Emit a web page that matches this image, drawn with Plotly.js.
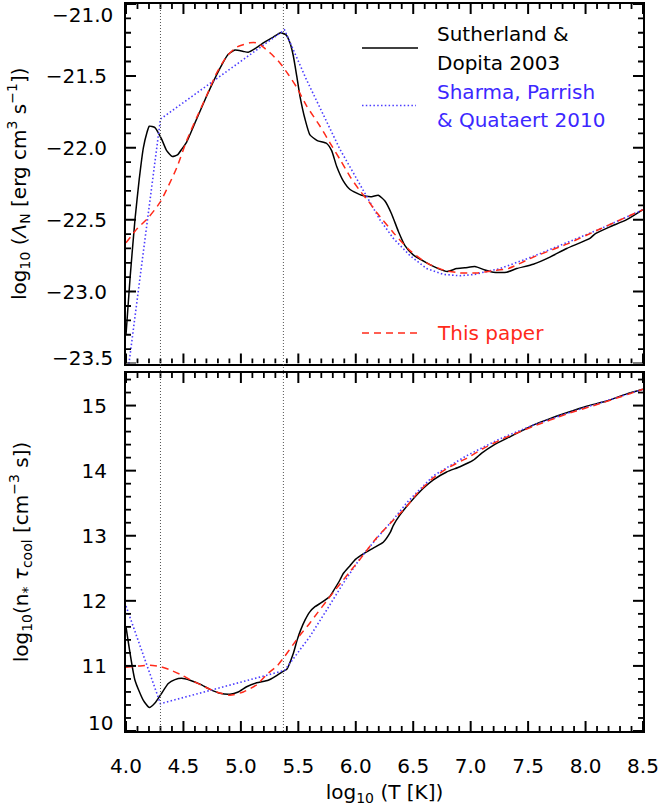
<!DOCTYPE html>
<html>
<head>
<meta charset="utf-8">
<script src="https://cdn.plot.ly/plotly-3.0.1.min.js"></script>
<style>html,body{margin:0;padding:0;background:#fff;}</style>
</head>
<body>
<div id="chart" style="width:660px;height:806px;"></div>
<script>
// ---------- data ----------
// Top panel: log10 Lambda_N vs log10 T
const sdTopX = [4.00, 4.035, 4.078, 4.115, 4.151, 4.18, 4.203, 4.252, 4.31, 4.354, 4.403, 4.447, 4.485, 4.528, 4.615, 4.702, 4.803, 4.89, 4.949, 5.021, 5.064, 5.123, 5.195, 5.282, 5.346, 5.393, 5.427, 5.456, 5.486, 5.514, 5.558, 5.601, 5.665, 5.747, 5.79, 5.834, 5.891, 5.95, 6.051, 6.138, 6.196, 6.254, 6.312, 6.37, 6.428, 6.50, 6.617, 6.718, 6.796, 6.878, 6.95, 7.037, 7.124, 7.197, 7.313, 7.40, 7.545, 7.69, 7.836, 8.038, 8.08, 8.212, 8.358, 8.50];
const sdTopY = [-23.30, -22.91, -22.50, -22.22, -22.00, -21.90, -21.85, -21.86, -21.94, -22.02, -22.06, -22.05, -22.01, -21.96, -21.80, -21.64, -21.47, -21.35, -21.32, -21.33, -21.335, -21.31, -21.27, -21.23, -21.20, -21.215, -21.27, -21.36, -21.50, -21.64, -21.80, -21.91, -21.95, -21.97, -22.02, -22.13, -22.23, -22.29, -22.33, -22.34, -22.33, -22.37, -22.46, -22.58, -22.68, -22.745, -22.80, -22.84, -22.86, -22.84, -22.835, -22.826, -22.85, -22.865, -22.865, -22.84, -22.81, -22.76, -22.70, -22.63, -22.60, -22.55, -22.50, -22.43];

const spqTopX = [4.00, 4.30, 5.38, 5.573, 5.862, 6.05, 6.21, 6.327, 6.472, 6.617, 6.762, 6.907, 7.037, 7.139, 7.255, 7.545, 7.836, 8.125, 8.50];
const spqTopY = [-23.66, -21.80, -21.18, -21.53, -22.01, -22.28, -22.50, -22.63, -22.75, -22.84, -22.88, -22.89, -22.88, -22.86, -22.84, -22.755, -22.66, -22.565, -22.43];

const paperTopX = [4.00, 4.10, 4.19, 4.296, 4.354, 4.441, 4.528, 4.615, 4.70, 4.789, 4.876, 4.963, 5.079, 5.137, 5.195, 5.268, 5.34, 5.413, 5.486, 5.573, 5.689, 5.775, 5.862, 5.95, 6.037, 6.109, 6.182, 6.327, 6.472, 6.617, 6.762, 6.907, 7.052, 7.197, 7.327, 7.545, 7.836, 8.125, 8.50];
const paperTopY = [-22.66, -22.56, -22.49, -22.38, -22.29, -22.14, -21.95, -21.79, -21.64, -21.48, -21.365, -21.30, -21.27, -21.27, -21.30, -21.35, -21.41, -21.49, -21.58, -21.71, -21.85, -21.965, -22.08, -22.20, -22.30, -22.37, -22.45, -22.59, -22.715, -22.80, -22.85, -22.87, -22.87, -22.855, -22.84, -22.76, -22.67, -22.565, -22.43];

// Bottom panel: log10(n* tau_cool) vs log10 T
const sdBotX = [4.00, 4.078, 4.151, 4.203, 4.252, 4.31, 4.368, 4.426, 4.485, 4.557, 4.644, 4.731, 4.818, 4.905, 4.977, 5.05, 5.137, 5.238, 5.30, 5.36, 5.40, 5.456, 5.49, 5.52, 5.56, 5.60, 5.645, 5.69, 5.747, 5.775, 5.804, 5.862, 5.891, 5.95, 6.00, 6.065, 6.152, 6.239, 6.30, 6.327, 6.385, 6.472, 6.588, 6.675, 6.791, 6.907, 7.023, 7.096, 7.197, 7.342, 7.545, 7.69, 7.836, 8.01, 8.184, 8.358, 8.50];
const sdBotY = [11.60, 10.78, 10.47, 10.36, 10.43, 10.58, 10.73, 10.79, 10.81, 10.78, 10.72, 10.64, 10.58, 10.565, 10.60, 10.68, 10.74, 10.78, 10.84, 10.91, 10.95, 11.19, 11.40, 11.55, 11.71, 11.83, 11.91, 11.96, 12.03, 12.07, 12.15, 12.32, 12.42, 12.54, 12.64, 12.72, 12.81, 12.90, 13.05, 13.16, 13.32, 13.51, 13.73, 13.86, 13.98, 14.06, 14.16, 14.27, 14.39, 14.52, 14.70, 14.80, 14.89, 14.99, 15.07, 15.18, 15.25];

const spqBotX = [4.00, 4.30, 5.38, 5.60, 5.747, 5.891, 6.037, 6.182, 6.327, 6.45, 6.675, 6.965, 7.255, 7.545, 7.836, 8.125, 8.50];
const spqBotY = [11.92, 10.42, 10.93, 11.45, 11.86, 12.27, 12.65, 12.96, 13.25, 13.52, 13.92, 14.23, 14.49, 14.70, 14.88, 15.04, 15.25];

const paperBotX = [4.00, 4.122, 4.209, 4.296, 4.383, 4.485, 4.557, 4.673, 4.789, 4.905, 5.021, 5.137, 5.238, 5.31, 5.37, 5.456, 5.514, 5.601, 5.66, 5.747, 5.804, 5.891, 5.95, 6.037, 6.182, 6.327, 6.443, 6.53, 6.675, 6.82, 6.965, 7.11, 7.255, 7.545, 7.836, 8.125, 8.50];
const paperBotY = [10.98, 11.00, 11.01, 10.99, 10.94, 10.86, 10.79, 10.69, 10.60, 10.55, 10.60, 10.71, 10.89, 10.99, 11.12, 11.33, 11.47, 11.66, 11.80, 12.00, 12.13, 12.32, 12.45, 12.64, 12.97, 13.24, 13.45, 13.64, 13.89, 14.06, 14.19, 14.34, 14.47, 14.68, 14.87, 15.03, 15.25];

// vertical markers (log10 T)
const markerT = [4.30, 5.37];

// ticks
const xTickVals = [4.0, 4.5, 5.0, 5.5, 6.0, 6.5, 7.0, 7.5, 8.0, 8.5];
const xTickText = ['4.0', '4.5', '5.0', '5.5', '6.0', '6.5', '7.0', '7.5', '8.0', '8.5'];
const yTopTickVals = [-21.0, -21.5, -22.0, -22.5, -23.0, -23.5];
const yTopTickText = ['\u221221.0', '\u221221.5', '\u221222.0', '\u221222.5', '\u221223.0', '\u221223.5'];
const yBotTickVals = [10, 11, 12, 13, 14, 15];
const yBotTickText = ['10', '11', '12', '13', '14', '15'];
// minor tick steps
const xMinorStep = 0.1, yTopMinorStep = 0.1, yBotMinorStep = 0.2;

// legend labels
const legendSD = ['Sutherland &', 'Dopita 2003'];
const legendSPQ = ['Sharma, Parrish', '& Quataert 2010'];
const legendPaper = 'This paper';

// ---------- styles ----------
const FONT = 'DejaVu Sans';
const BLACK = '#000000';
const BLUE = '#4b3cff';
const BLUE_TXT = '#3c28ff';
const RED = '#ff2a1a';
const sdLine = {color: BLACK, width: 1.5, shape: 'spline', smoothing: 0.5};
const spqLine = {color: BLUE, width: 1.6, dash: '1.5px,2.3px'};
const paperLine = {color: RED, width: 1.5, dash: '7px,5px', shape: 'spline', smoothing: 0.6};
const MAJOR_LEN = 10, MINOR_LEN = 5, MAJOR_W = 2, MINOR_W = 1.8;

const W = 660, H = 806;
const M = {l: 126, r: 17, t: 4, b: 75};
const plotW = W - M.l - M.r, plotH = H - M.t - M.b;
const topDomain = [0.5055, 1];
const botDomain = [0, 0.4924];
const xRange = [4, 8.5], yTopRange = [-23.5, -21.0], yBotRange = [10, 15.5];

const traces = [
  {x: sdTopX, y: sdTopY, xaxis: 'x', yaxis: 'y', mode: 'lines', line: sdLine},
  {x: spqTopX, y: spqTopY, xaxis: 'x', yaxis: 'y', mode: 'lines', line: spqLine},
  {x: paperTopX, y: paperTopY, xaxis: 'x', yaxis: 'y', mode: 'lines', line: paperLine},
  {x: sdBotX, y: sdBotY, xaxis: 'x2', yaxis: 'y2', mode: 'lines', line: sdLine},
  {x: spqBotX, y: spqBotY, xaxis: 'x2', yaxis: 'y2', mode: 'lines', line: spqLine},
  {x: paperBotX, y: paperBotY, xaxis: 'x2', yaxis: 'y2', mode: 'lines', line: paperLine}
];

const axisCommon = {
  showline: true, linecolor: BLACK, linewidth: 2, mirror: true,
  ticks: '', showgrid: false, zeroline: false,
  tickfont: {family: FONT, size: 20, color: BLACK}
};

const layout = {
  width: W, height: H,
  margin: M,
  paper_bgcolor: '#ffffff', plot_bgcolor: '#ffffff',
  showlegend: false,
  font: {family: FONT, size: 20, color: BLACK},
  xaxis: Object.assign({}, axisCommon, {
    domain: [0, 1], anchor: 'y', range: xRange, showticklabels: false
  }),
  xaxis2: Object.assign({}, axisCommon, {
    domain: [0, 1], anchor: 'y2', range: xRange,
    tickmode: 'array', tickvals: xTickVals, ticktext: xTickText, ticklabelstandoff: 16,
    title: {text: 'log<sub>10</sub> (T [K])', font: {family: FONT, size: 20, color: BLACK}, standoff: 8}
  }),
  yaxis: Object.assign({}, axisCommon, {
    domain: topDomain, anchor: 'x', range: yTopRange,
    tickmode: 'array', tickvals: yTopTickVals,
    ticktext: yTopTickText.map((t, i) => (i === 0 || i === yTopTickText.length - 1) ? ' ' : t),
    ticklabelstandoff: 13,
    title: {text: 'log<sub>10</sub> (<i>Λ</i><sub>N</sub> [erg cm<sup>3</sup> s<sup>\u22121</sup>])', font: {family: FONT, size: 20, color: BLACK}, standoff: 14}
  }),
  yaxis2: Object.assign({}, axisCommon, {
    domain: botDomain, anchor: 'x2', range: yBotRange,
    tickmode: 'array', tickvals: yBotTickVals,
    ticktext: yBotTickText.map((t, i) => i === 0 ? ' ' : t),
    ticklabelstandoff: 13,
    title: {text: 'log<sub>10</sub>(n<sub>*</sub> <i>τ</i><sub>cool</sub> [cm<sup>\u22123</sup> s])', font: {family: FONT, size: 20, color: BLACK}, standoff: 48}
  }),
  shapes: [],
  annotations: []
};

// ---------- inward ticks on all four sides of both panels (data-referenced) ----------
const stepVals = (r, step) => {
  const out = [];
  const n = Math.round((r[1] - r[0]) / step);
  for (let i = 0; i <= n; i++) out.push(+(r[0] + i * step).toFixed(4));
  return out;
};
const isMajor = (v, majors) => majors.some(m => Math.abs(m - v) < 1e-6);

function addXTicks(xref, yref, domain, yr) {
  const panelH = (domain[1] - domain[0]) * plotH;
  const perPx = (yr[1] - yr[0]) / panelH;
  stepVals(xRange, xMinorStep).forEach(v => {
    const major = isMajor(v, xTickVals);
    const d = (major ? MAJOR_LEN : MINOR_LEN) * perPx;
    const ln = {color: BLACK, width: major ? MAJOR_W : MINOR_W};
    layout.shapes.push({type: 'line', xref: xref, yref: yref,
      x0: v, x1: v, y0: yr[0], y1: yr[0] + d, line: ln, layer: 'above'});
    layout.shapes.push({type: 'line', xref: xref, yref: yref,
      x0: v, x1: v, y0: yr[1] - d, y1: yr[1], line: ln, layer: 'above'});
  });
}
function addYTicks(xref, yref, yr, step, majors) {
  const perPx = (xRange[1] - xRange[0]) / plotW;
  stepVals(yr, step).forEach(v => {
    const major = isMajor(v, majors);
    const d = (major ? MAJOR_LEN : MINOR_LEN) * perPx;
    const ln = {color: BLACK, width: major ? MAJOR_W : MINOR_W};
    layout.shapes.push({type: 'line', xref: xref, yref: yref,
      x0: xRange[0], x1: xRange[0] + d, y0: v, y1: v, line: ln, layer: 'above'});
    layout.shapes.push({type: 'line', xref: xref, yref: yref,
      x0: xRange[1] - d, x1: xRange[1], y0: v, y1: v, line: ln, layer: 'above'});
  });
}
addXTicks('x', 'y', topDomain, yTopRange);
addXTicks('x2', 'y2', botDomain, yBotRange);
addYTicks('x', 'y', yTopRange, yTopMinorStep, yTopTickVals);
addYTicks('x2', 'y2', yBotRange, yBotMinorStep, yBotTickVals);

// vertical dotted markers across both panels
markerT.forEach(t => {
  layout.shapes.push({type: 'line', xref: 'x', yref: 'paper', x0: t, x1: t, y0: 0, y1: 1,
    line: {color: '#555555', width: 1, dash: '1px,2px'}, layer: 'above'});
});

// edge tick labels, nudged inside the frame as in the original
const edgeLabel = (text, yref, yval, yshift) => ({
  text: text, xref: 'paper', x: 0, xanchor: 'right', xshift: -11,
  yref: yref, y: yval, yanchor: 'middle', yshift: yshift, showarrow: false,
  font: {family: FONT, size: 20, color: BLACK}
});
layout.annotations.push(edgeLabel(yTopTickText[0], 'y', yTopTickVals[0], -11));
layout.annotations.push(edgeLabel(yTopTickText[yTopTickText.length - 1], 'y', yTopTickVals[yTopTickVals.length - 1], 6));
layout.annotations.push(edgeLabel(yBotTickText[0], 'y2', yBotTickVals[0], 8));

// legend (drawn manually to follow the original layout)
const pxX = px => (px - M.l) / plotW;
const pxY = py => (H - M.b - py) / plotH;
layout.shapes.push({type: 'line', xref: 'paper', yref: 'paper', x0: pxX(362), x1: pxX(418), y0: pxY(48), y1: pxY(48), line: {color: BLACK, width: 1.5}});
layout.shapes.push({type: 'line', xref: 'paper', yref: 'paper', x0: pxX(362), x1: pxX(416), y0: pxY(105.5), y1: pxY(105.5), line: {color: BLUE, width: 1.6, dash: '1.5px,2.3px'}});
layout.shapes.push({type: 'line', xref: 'paper', yref: 'paper', x0: pxX(362), x1: pxX(418), y0: pxY(333), y1: pxY(333), line: {color: RED, width: 1.5, dash: '7px,5px'}});

const legText = (text, py, color) => ({
  text: text, xref: 'paper', yref: 'paper', x: pxX(435), y: pxY(py),
  xanchor: 'left', yanchor: 'middle', showarrow: false,
  font: {family: FONT, size: 20, color: color}
});
layout.annotations.push(legText(legendSD[0], 34, BLACK));
layout.annotations.push(legText(legendSD[1], 63, BLACK));
layout.annotations.push(legText(legendSPQ[0], 92, BLUE_TXT));
layout.annotations.push(legText(legendSPQ[1], 120, BLUE_TXT));
layout.annotations.push(legText(legendPaper, 333, RED));

Plotly.newPlot('chart', traces, layout, {staticPlot: true, displayModeBar: false});
</script>
</body>
</html>
